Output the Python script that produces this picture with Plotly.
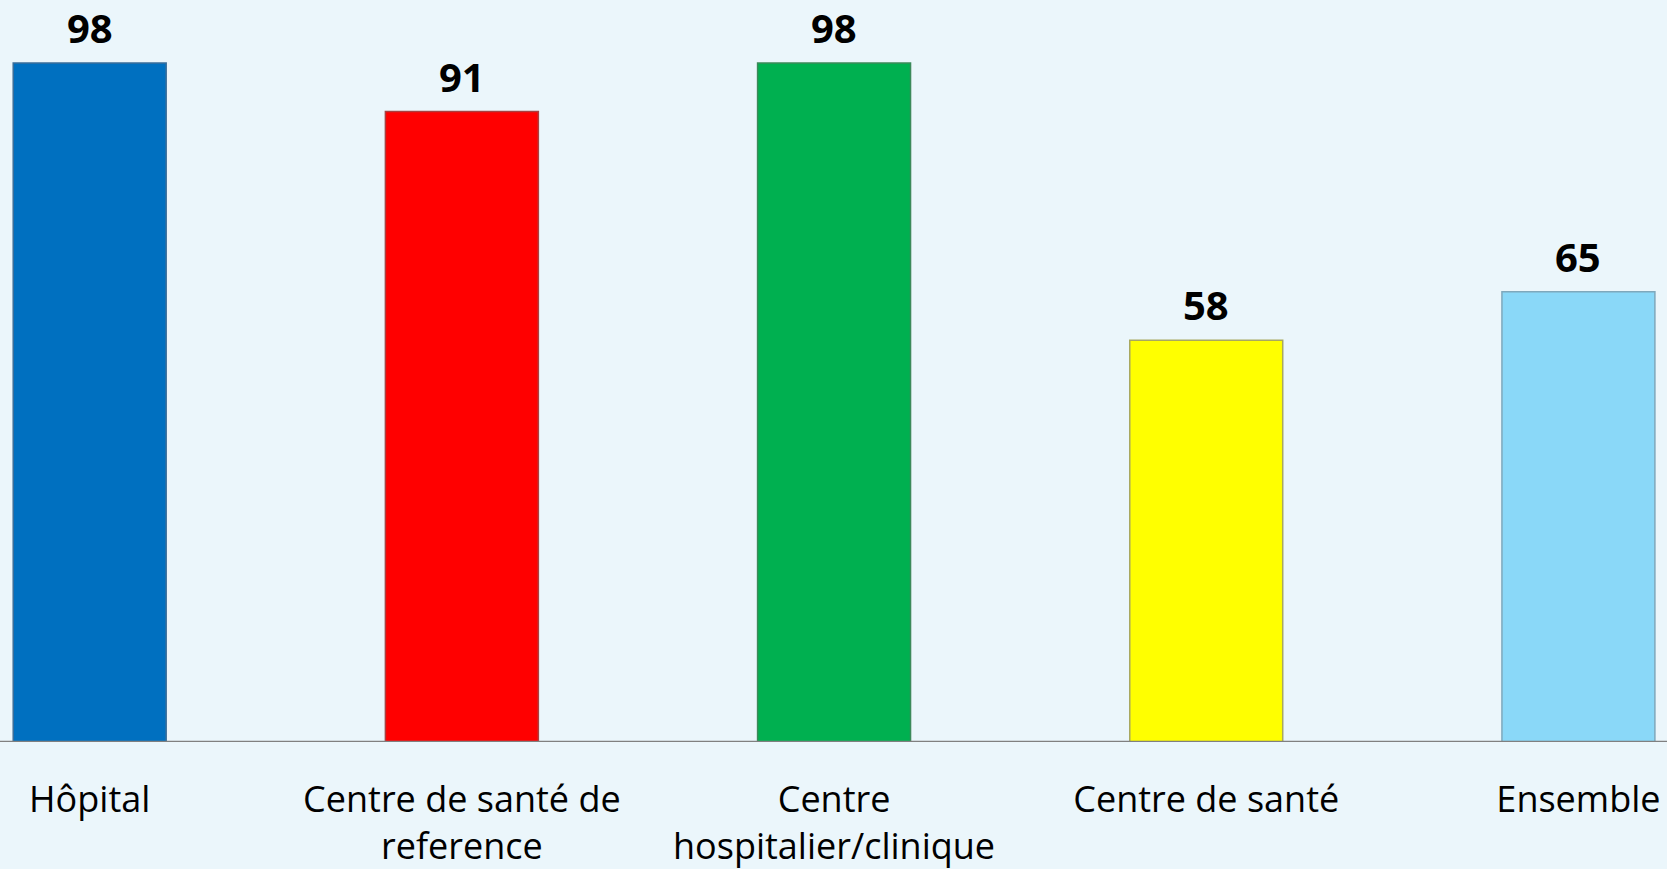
import plotly.graph_objects as go

categories = [
    "Hôpital",
    "Centre de santé de<br>reference",
    "Centre<br>hospitalier/clinique",
    "Centre de santé",
    "Ensemble",
]
values = [98, 91, 98, 58, 65]
bar_colors = ["#0070C0", "#FF0000", "#00B050", "#FFFF00", "#8AD8F8"]
edge_colors = ["#3A6E9A", "#A84040", "#3C8A5A", "#A8A860", "#7FA8BC"]

x_pos = list(range(len(categories)))

fig = go.Figure()
fig.add_trace(
    go.Bar(
        x=x_pos,
        y=values,
        width=0.411,
        marker=dict(color=bar_colors, line=dict(color=edge_colors, width=1.5)),
        hoverinfo="x+y",
    )
)

# value labels above the bars
for xi, v in zip(x_pos, values):
    fig.add_annotation(
        x=xi,
        y=v,
        text="<b>%d</b>" % v,
        showarrow=False,
        yanchor="bottom",
        yshift=7,
        borderpad=0,
        font=dict(family="Open Sans", size=40, color="#000000"),
    )

fig.update_layout(
    width=1667,
    height=869,
    paper_bgcolor="#EBF6FB",
    plot_bgcolor="#EBF6FB",
    showlegend=False,
    margin=dict(l=0, r=0, t=0, b=127),
    xaxis=dict(
        range=[-0.241, 4.238],
        tickvals=x_pos,
        ticktext=categories,
        showgrid=False,
        zeroline=False,
        showline=False,
        ticks="",
        ticklabelstandoff=33,
        tickfont=dict(family="Open Sans", size=36, color="#000000"),
    ),
    yaxis=dict(
        range=[0, 107.1],
        showgrid=False,
        zeroline=False,
        showticklabels=False,
        showline=False,
    ),
)

# baseline of the category axis
fig.add_hline(y=0, line=dict(color="#808080", width=2.5))

# drop the browser's default page margin so the chart fills the window
fig.write_html(
    "out.html",
    config={"displayModeBar": False},
    post_script="document.body.style.margin='0';document.body.style.overflow='hidden';",
)
